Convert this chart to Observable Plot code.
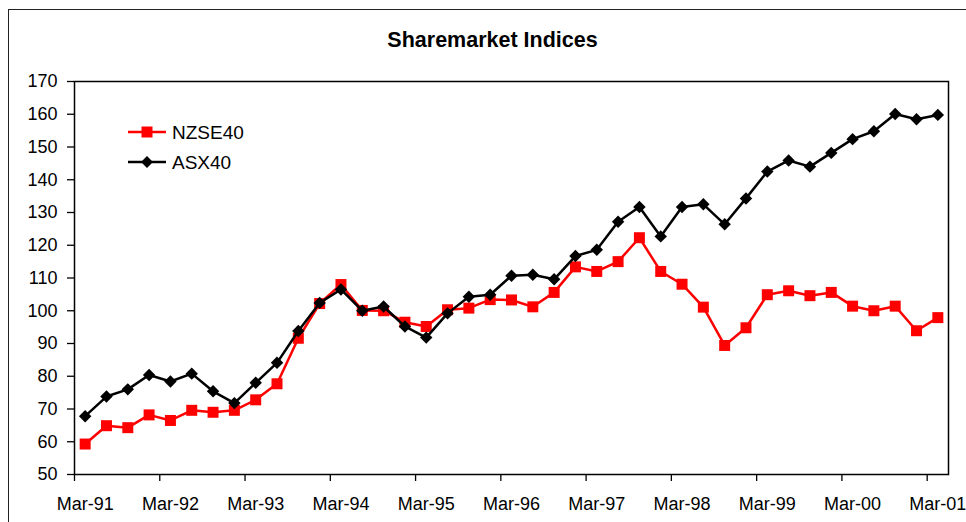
<!DOCTYPE html>
<html>
<head>
<meta charset="utf-8">
<script src="https://cdn.jsdelivr.net/npm/d3@7"></script>
<script src="https://cdn.jsdelivr.net/npm/@observablehq/plot@0.6"></script>
<style>
  html, body { margin: 0; padding: 0; background: #fff; width: 966px; height: 522px; overflow: hidden; }
  #frame { position: absolute; left: 8px; top: 9px; width: 1000px; height: 600px; border: 1.5px solid #222; box-sizing: border-box; }
  #title { position: absolute; left: 0; top: 29px; width: 985px; text-align: center;
           font: bold 21.5px "Liberation Sans", Arial, sans-serif; line-height: 22px; color: #000; }
  #chart { position: absolute; left: 0; top: 0; }
  #legend { position: absolute; left: 120px; top: 115px; }
</style>
</head>
<body>
<div id="frame"></div>
<div id="chart"></div>
<div id="title">Sharemarket Indices</div>
<svg id="legend" width="140" height="70"></svg>
<script>
// Quarter labels (categories)
const quarters = [
  "Mar-91","Jun-91","Sep-91","Dec-91",
  "Mar-92","Jun-92","Sep-92","Dec-92",
  "Mar-93","Jun-93","Sep-93","Dec-93",
  "Mar-94","Jun-94","Sep-94","Dec-94",
  "Mar-95","Jun-95","Sep-95","Dec-95",
  "Mar-96","Jun-96","Sep-96","Dec-96",
  "Mar-97","Jun-97","Sep-97","Dec-97",
  "Mar-98","Jun-98","Sep-98","Dec-98",
  "Mar-99","Jun-99","Sep-99","Dec-99",
  "Mar-00","Jun-00","Sep-00","Dec-00",
  "Mar-01"
];

// NZSE40 index values
const nzse40 = [
  59.3, 64.9, 64.3, 68.2,
  66.5, 69.6, 69.0, 69.6,
  72.8, 77.7, 91.6, 102.2,
  108.0, 100.1, 100.0, 96.5,
  95.2, 100.3, 100.8, 103.4,
  103.3, 101.2, 105.6, 113.4,
  112.0, 115.0, 122.3, 112.0,
  108.1, 101.1, 89.4, 94.8,
  104.9, 106.1, 104.6, 105.6,
  101.4, 100.0, 101.4, 93.9,
  97.9
];

// ASX40 index values
const asx40 = [
  67.8, 73.8, 76.0, 80.4,
  78.4, 80.8, 75.4, 71.8,
  78.0, 84.1, 93.8, 102.4,
  106.5, 100.0, 101.3, 95.2,
  91.8, 99.2, 104.3, 104.9,
  110.7, 111.0, 109.6, 116.7,
  118.6, 127.2, 131.7, 122.7,
  131.7, 132.5, 126.4, 134.3,
  142.5, 145.9, 144.0, 148.2,
  152.4, 154.8, 160.1, 158.5,
  159.8
];

// Axis tick labels
const xTickLabels = ["Mar-91","Mar-92","Mar-93","Mar-94","Mar-95","Mar-96","Mar-97","Mar-98","Mar-99","Mar-00","Mar-01"];
const yTicks = [50, 60, 70, 80, 90, 100, 110, 120, 130, 140, 150, 160, 170];

const seriesNames = ["NZSE40", "ASX40"];
const seriesColors = ["#ff0000", "#000000"];

const rows = quarters.map((q, i) => ({i, q, nz: nzse40[i], asx: asx40[i]}));
const labelIdx = xTickLabels.map(l => quarters.indexOf(l));
const boundaryIdx = labelIdx.map(i => i - 0.5);

const font = '"Liberation Sans", Arial, sans-serif';

const chart = Plot.plot({
  width: 966,
  height: 522,
  marginLeft: 74,
  marginRight: 18,
  marginTop: 81,
  marginBottom: 48,
  style: {fontFamily: font, fontSize: "18px", background: "transparent", color: "#000", overflow: "visible"},
  x: {type: "linear", domain: [-0.5, quarters.length - 0.5]},
  y: {type: "linear", domain: [yTicks[0], yTicks[yTicks.length - 1]]},
  marks: [
    Plot.axisY(yTicks, {tickSize: 7, tickPadding: 10, tickFormat: d => String(d), label: null, stroke: "#000", strokeWidth: 1.3, fontSize: 18}),
    Plot.axisX(boundaryIdx, {tickSize: 7, tickFormat: () => "", label: null, stroke: "#000", strokeWidth: 1.3}),
    Plot.axisX(labelIdx, {tickSize: 0, tickPadding: 23, tickFormat: i => quarters[i], label: null, fontSize: 18}),
    Plot.frame({stroke: "#000", strokeWidth: 1.5}),
    Plot.line(rows, {x: "i", y: "nz", stroke: seriesColors[0], strokeWidth: 2.5}),
    Plot.dot(rows, {x: "i", y: "nz", symbol: "square", r: 6.2, fill: seriesColors[0], stroke: "none"}),
    Plot.line(rows, {x: "i", y: "asx", stroke: seriesColors[1], strokeWidth: 2.5}),
    Plot.dot(rows, {x: "i", y: "asx", symbol: "diamond2", r: 5.6, fill: seriesColors[1], stroke: "none"})
  ]
});
document.getElementById("chart").appendChild(chart);

// Legend
const leg = d3.select("#legend");
const symbols = [d3.symbolSquare, d3.symbolDiamond2];
const sizes = [121, 90];
seriesNames.forEach((name, k) => {
  const g = leg.append("g").attr("transform", `translate(0, ${17 + k * 30})`);
  g.append("line").attr("x1", 8).attr("x2", 46).attr("y1", 0).attr("y2", 0)
    .attr("stroke", seriesColors[k]).attr("stroke-width", 2.5);
  g.append("path").attr("d", d3.symbol(symbols[k], sizes[k])()).attr("transform", "translate(27,0)")
    .attr("fill", seriesColors[k]);
  g.append("text").attr("x", 52).attr("y", 7).text(name)
    .attr("font-family", font).attr("font-size", 19).attr("fill", "#000");
});
</script>
</body>
</html>
